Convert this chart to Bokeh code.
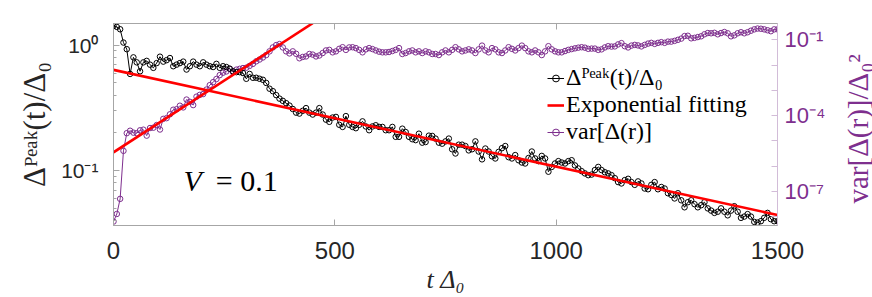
import math
import numpy as np
from bokeh.plotting import figure
from bokeh.layouts import row
from bokeh.models import (Range1d, LogAxis, LinearAxis, FixedTicker, LogScale,
                          Label, Legend, LegendItem)
from bokeh.embed import file_html
from bokeh.resources import INLINE

# ---------------- data ----------------
t_step = 7.5
t_vals = list(np.arange(0, 1500 + t_step / 2, t_step))

peak_vals = [
    1.42, 1.40, 1.34, 1.05, 0.93, 0.59, 0.80, 0.73, 0.62, 0.73,
    0.75, 0.70, 0.66, 0.72, 0.81, 0.74, 0.76, 0.79, 0.68, 0.70,
    0.72, 0.74, 0.64, 0.68, 0.74, 0.70, 0.68, 0.73, 0.70, 0.68,
    0.67, 0.71, 0.66, 0.68, 0.67, 0.65, 0.62, 0.61, 0.61, 0.60,
    0.54, 0.59, 0.55, 0.55, 0.54, 0.53, 0.50, 0.45, 0.43, 0.40,
    0.375, 0.36, 0.345, 0.33, 0.31, 0.29, 0.285, 0.30, 0.315, 0.29,
    0.28, 0.29, 0.315, 0.28, 0.255, 0.245, 0.265, 0.268, 0.232, 0.223,
    0.272, 0.232, 0.223, 0.218, 0.232, 0.247, 0.225, 0.21, 0.225, 0.23,
    0.223, 0.223, 0.21, 0.21, 0.223, 0.186, 0.186, 0.216, 0.203, 0.186,
    0.178, 0.175, 0.197, 0.167, 0.169, 0.19, 0.189, 0.18, 0.167, 0.164,
    0.171, 0.18, 0.148, 0.137, 0.161, 0.161, 0.157, 0.145, 0.148, 0.171,
    0.142, 0.123, 0.15, 0.142, 0.13, 0.125, 0.141, 0.151, 0.157, 0.128,
    0.125, 0.133, 0.121, 0.116, 0.114, 0.126, 0.142, 0.125, 0.119, 0.131,
    0.125, 0.098, 0.107, 0.114, 0.119, 0.116, 0.114, 0.119, 0.121, 0.11,
    0.104, 0.099, 0.095, 0.092, 0.093, 0.101, 0.107, 0.101, 0.097, 0.095,
    0.092, 0.087, 0.081, 0.079, 0.084, 0.086, 0.081, 0.077, 0.082, 0.079,
    0.072, 0.071, 0.077, 0.081, 0.071, 0.074, 0.072, 0.066, 0.064, 0.060,
    0.066, 0.058, 0.051, 0.056, 0.058, 0.054, 0.051, 0.053, 0.056, 0.050,
    0.048, 0.046, 0.047, 0.050, 0.047, 0.044, 0.048, 0.052, 0.047, 0.042,
    0.043, 0.045, 0.043, 0.039, 0.0385, 0.0395, 0.042, 0.046, 0.041, 0.0395,
    0.0395,
]

var_vals = [
    6.3e-9, 1.26e-8, 5.0e-8, 4.0e-6, 2.0e-5, 2.5e-5, 2.1e-5, 2.0e-5, 2.6e-5, 2.75e-5,
    1.6e-5, 3.2e-5, 3.3e-5, 4.2e-5, 2.8e-5, 7.4e-5, 7.9e-5, 1.12e-4, 1.7e-4, 1.78e-4,
    2.45e-4, 2.1e-4, 4.3e-4, 3.5e-4, 2.6e-4, 5.6e-4, 6.6e-4, 7.1e-4, 1.07e-3, 1.6e-3,
    2.1e-3, 2.8e-3, 4.0e-3, 5.0e-3, 5.6e-3, 7.1e-3, 5.2e-3, 6.6e-3, 7.1e-3, 7.6e-3,
    7.9e-3, 9.3e-3, 1.12e-2, 1.41e-2, 1.66e-2, 2.0e-2, 2.5e-2, 3.5e-2, 5.0e-2, 6.2e-2,
    6.8e-2, 5.0e-2, 3.5e-2, 2.9e-2, 3.5e-2, 2.8e-2, 1.86e-2, 2.1e-2, 2.2e-2, 2.75e-2,
    2.6e-2, 2.2e-2, 2.4e-2, 3.0e-2, 3.8e-2, 4.0e-2, 3.2e-2, 3.5e-2, 4.4e-2, 5.1e-2,
    4.0e-2, 5.0e-2, 5.1e-2, 4.7e-2, 4.0e-2, 3.2e-2, 4.2e-2, 4.7e-2, 4.3e-2, 3.8e-2,
    3.4e-2, 3.2e-2, 3.2e-2, 3.3e-2, 3.6e-2, 4.0e-2, 4.7e-2, 2.75e-2, 3.0e-2, 3.5e-2,
    3.8e-2, 3.2e-2, 3.5e-2, 3.0e-2, 3.5e-2, 3.2e-2, 2.75e-2, 2.75e-2, 2.5e-2, 3.2e-2,
    3.8e-2, 3.2e-2, 4.0e-2, 5.1e-2, 4.2e-2, 3.5e-2, 3.8e-2, 4.2e-2, 3.8e-2, 3.0e-2,
    4.2e-2, 5.9e-2, 3.8e-2, 3.2e-2, 4.7e-2, 4.2e-2, 3.2e-2, 3.0e-2, 3.8e-2, 5.1e-2,
    4.4e-2, 3.8e-2, 4.7e-2, 5.9e-2, 4.7e-2, 3.5e-2, 3.2e-2, 3.8e-2, 3.2e-2, 2.5e-2,
    3.5e-2, 5.6e-2, 4.2e-2, 3.5e-2, 3.2e-2, 3.2e-2, 3.6e-2, 4.0e-2, 4.3e-2, 4.6e-2,
    4.9e-2, 5.1e-2, 4.9e-2, 4.4e-2, 4.5e-2, 4.5e-2, 4.0e-2, 4.2e-2, 5.0e-2, 5.6e-2,
    5.4e-2, 5.5e-2, 6.6e-2, 7.4e-2, 5.6e-2, 5.0e-2, 5.9e-2, 6.3e-2, 6.0e-2, 5.5e-2,
    6.3e-2, 7.1e-2, 7.6e-2, 6.9e-2, 7.6e-2, 8.1e-2, 7.6e-2, 8.5e-2, 8.5e-2, 9.1e-2,
    1.0e-1, 1.12e-1, 1.41e-1, 1.45e-1, 1.15e-1, 1.2e-1, 1.29e-1, 1.38e-1, 1.66e-1, 1.86e-1,
    1.82e-1, 1.9e-1, 1.66e-1, 1.86e-1, 2.04e-1, 1.82e-1, 1.38e-1, 1.51e-1, 1.82e-1, 2.0e-1,
    1.82e-1, 2.0e-1, 2.3e-1, 2.6e-1, 2.8e-1, 2.75e-1, 2.6e-1, 2.4e-1, 2.2e-1, 2.6e-1,
    2.6e-1,
]

# exponential fits (end points of straight lines on log axes)
decay_fit_t = [0, 1500]
decay_fit_y = [0.636, 0.0443]
growth_fit_t = [0, 450]
growth_fit_y = [3.5e-6, 0.456]

x_ticks = [0, 500, 1000, 1500]
x_inner_ticks = [500, 1000]
left_major = [0.1, 1.0]
left_minor = [0.04, 0.05, 0.06, 0.07, 0.08, 0.09, 0.2, 0.3, 0.4, 0.5, 0.6, 0.7, 0.8, 0.9]
right_major = [1e-7, 1e-4, 1e-1]
right_minor = [1e-8, 1e-6, 1e-5, 1e-3, 1e-2]
right_labels = {1e-1: "10⁻¹", 1e-4: "10⁻⁴", 1e-7: "10⁻⁷"}

# ---------------- style ----------------
BLACK = "#000000"
RED = "#ff0000"
PURPLE = "#7e2f8e"
AXIS_GRAY = "#a6a6a6"
TXT = "#262626"
SERIF = "Liberation Serif, Times New Roman, serif"
SANS = "Liberation Sans, Arial, sans-serif"
FRAME_W = 664
FRAME_H = 202
TOP = 23

p = figure(frame_width=FRAME_W, frame_height=FRAME_H,
           x_range=Range1d(0, 1500), y_range=Range1d(0.0365, 1.49),
           y_axis_type="log", output_backend="svg", toolbar_location=None,
           min_border_left=113, min_border_right=55, min_border_top=TOP,
           min_border_bottom=66, background_fill_color="white",
           border_fill_color="white")
p.extra_y_ranges = {"var": Range1d(4.4e-9, 0.444)}
p.extra_y_scales = {"var": LogScale()}
p.grid.visible = False
p.outline_line_color = AXIS_GRAY
p.outline_line_width = 1

# bottom axis
xa = p.xaxis[0]
xa.ticker = FixedTicker(ticks=x_ticks)
xa.major_tick_in = 6
xa.major_tick_out = 0
xa.minor_tick_in = 0
xa.minor_tick_out = 0
xa.axis_line_color = AXIS_GRAY
xa.major_tick_line_color = AXIS_GRAY
xa.major_label_text_font = SANS
xa.major_label_text_font_size = "24px"
xa.major_label_text_color = TXT
xa.major_label_standoff = 16
xa.axis_label = "t Δ₀"
xa.axis_label_text_font = SERIF
xa.axis_label_text_font_style = "italic"
xa.axis_label_text_font_size = "26px"
xa.axis_label_text_color = TXT
xa.axis_label_standoff = 3

# left axis
ya = p.yaxis[0]
ya.ticker = FixedTicker(ticks=left_major, minor_ticks=left_minor)
ya.major_label_overrides = {0.1: "10⁻¹", 1.0: "10⁰", 1: "10⁰"}
ya.major_tick_in = 6
ya.major_tick_out = 0
ya.minor_tick_in = 3
ya.minor_tick_out = 0
ya.axis_line_color = AXIS_GRAY
ya.major_tick_line_color = AXIS_GRAY
ya.minor_tick_line_color = AXIS_GRAY
ya.major_label_text_font = SANS
ya.major_label_text_font_size = "21px"
ya.major_label_text_color = TXT
ya.major_label_standoff = 15
ya.axis_label = "Δᴾᵉᵃᵏ(t)/Δ₀"
ya.axis_label_text_font = SERIF
ya.axis_label_text_font_style = "normal"
ya.axis_label_text_font_size = "31px"
ya.axis_label_text_color = TXT
ya.axis_label_standoff = 6

# top mirror ticks (no labels: ticks given as minor ticks)
ta = LinearAxis(ticker=FixedTicker(ticks=[], minor_ticks=x_inner_ticks),
                major_tick_in=0, major_tick_out=0,
                minor_tick_in=6, minor_tick_out=0, axis_line_color=AXIS_GRAY,
                minor_tick_line_color=AXIS_GRAY, major_label_standoff=0)
p.add_layout(ta, "above")

# right axis
ra = LogAxis(y_range_name="var",
             ticker=FixedTicker(ticks=right_major, minor_ticks=right_minor))
ra.major_label_overrides = right_labels
ra.major_tick_in = 6
ra.major_tick_out = 0
ra.minor_tick_in = 6
ra.minor_tick_out = 0
ra.axis_line_color = "#d2bcd8"
ra.major_tick_line_color = "#d2bcd8"
ra.minor_tick_line_color = "#d2bcd8"
ra.major_label_text_font = SANS
ra.major_label_text_font_size = "22px"
ra.major_label_text_color = PURPLE
ra.major_label_standoff = 7
p.add_layout(ra, "right")

# ---------------- glyphs ----------------
var_line = p.line(t_vals, var_vals, y_range_name="var", line_color=PURPLE, line_width=1)
var_pts = p.scatter(t_vals, var_vals, y_range_name="var", marker="circle", size=5.5,
                    line_color=PURPLE, fill_alpha=0, line_width=1)
pk_line = p.line(t_vals, peak_vals, line_color=BLACK, line_width=1)
pk_pts = p.scatter(t_vals, peak_vals, marker="circle", size=5.5,
                   line_color=BLACK, fill_alpha=0, line_width=1)
fit1 = p.line(decay_fit_t, decay_fit_y, line_color=RED, line_width=2.6)
fit2 = p.line(growth_fit_t, growth_fit_y, y_range_name="var", line_color=RED, line_width=2.6)

legend = Legend(items=[
    LegendItem(label="Δᴾᵉᵃᵏ(t)/Δ₀", renderers=[pk_line, pk_pts]),
    LegendItem(label="Exponential fitting", renderers=[fit1]),
    LegendItem(label="var[Δ(r)]", renderers=[var_line, var_pts]),
], location=(432, 78), label_text_font=SERIF, label_text_font_size="24px",
    label_text_color="black", glyph_width=17, glyph_height=20, label_height=20,
    spacing=0, padding=2, margin=0, label_standoff=2,
    border_line_alpha=0, background_fill_alpha=0)
p.add_layout(legend)

p.add_layout(Label(x=158, y=0.083, text="V", text_font=SERIF, text_font_style="italic",
                   text_font_size="30px", text_color="black", text_baseline="alphabetic"))
p.add_layout(Label(x=231, y=0.083, text="= 0.1", text_font=SERIF,
                   text_font_size="30px", text_color="black", text_baseline="alphabetic"))

# ---------------- right-hand title strip (reads bottom-to-top) ----------------
# In a row, the strip's frame is aligned with the main frame (same top/bottom
# borders), so with the same overall height its frame spans the same rows.
STRIP_W = 40
STRIP_H = 296
q = figure(width=STRIP_W, height=STRIP_H, x_axis_type=None, y_axis_type=None,
           x_range=Range1d(0, 1), y_range=Range1d(0, 1),
           output_backend="svg", toolbar_location=None, min_border=0,
           outline_line_color=None, background_fill_color="white",
           border_fill_color="white")
q.grid.visible = False
q.add_layout(Label(x=25, y=22, x_units="screen", y_units="screen",
                   text="var[Δ(r)]/Δ₀²", angle=math.pi / 2, angle_units="rad",
                   text_align="left", text_baseline="middle",
                   text_font=SERIF, text_font_size="29px", text_color=PURPLE))

layout = row(p, q, spacing=0)
open("out.html", "w").write(file_html(layout, INLINE))
